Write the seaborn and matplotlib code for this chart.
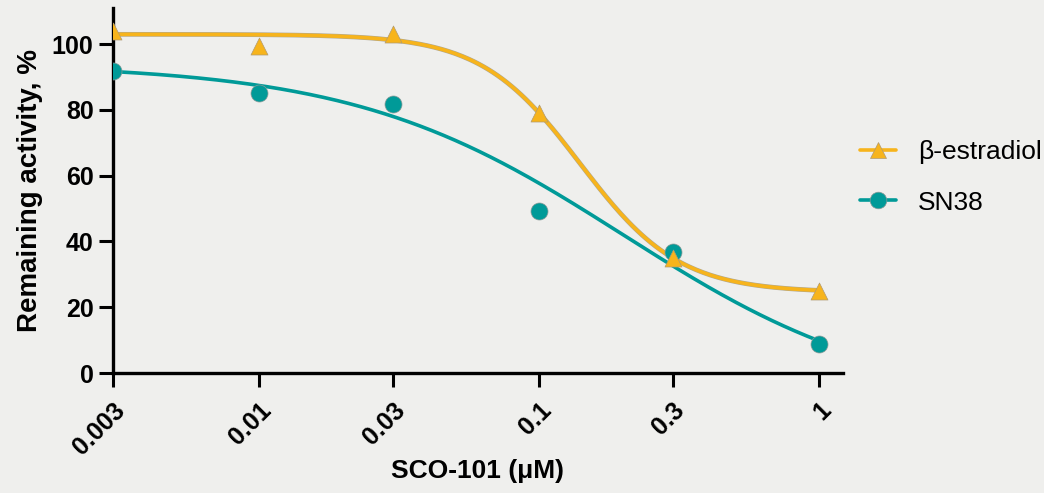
import numpy as np
import pandas as pd
import matplotlib
matplotlib.use("Agg")
import matplotlib.pyplot as plt
import matplotlib.patheffects as pe
from matplotlib.lines import Line2D
import seaborn as sns

# measured points
conc = [0.003, 0.01, 0.03, 0.1, 0.3, 1]
tick_labels = ["0.003", "0.01", "0.03", "0.1", "0.3", "1"]
estradiol = [104, 99.4, 103, 79, 35, 24.8]
sn38 = [91.8, 85.1, 81.8, 49.2, 36.8, 8.9]

# 4PL fit parameters (top, bottom, IC50, hill)
estradiol_fit = [103, 24.5, 0.14, 2.45]
sn38_fit = [94, -10, 0.2, 0.9]

BG = "#efefed"
ORANGE = "#f7b41c"
TEAL = "#009a98"


def four_pl(x, top, bottom, ic50, hill):
    return bottom + (top - bottom) / (1 + (x / ic50) ** hill)


sns.set_theme(style="ticks")
plt.rcParams["font.family"] = ["Liberation Sans", "DejaVu Sans"]
plt.rcParams["text.color"] = "black"
plt.rcParams["axes.labelcolor"] = "black"
plt.rcParams["xtick.color"] = "black"
plt.rcParams["ytick.color"] = "black"

xs = np.geomspace(conc[0], conc[-1], 300)
curves = pd.DataFrame({
    "x": np.concatenate([xs, xs]),
    "y": np.concatenate([four_pl(xs, *estradiol_fit), four_pl(xs, *sn38_fit)]),
    "drug": ["β-estradiol"] * len(xs) + ["SN38"] * len(xs),
})
points = pd.DataFrame({
    "x": conc + conc,
    "y": estradiol + sn38,
    "drug": ["β-estradiol"] * len(conc) + ["SN38"] * len(conc),
})

fig = plt.figure(figsize=(10.44, 4.93), dpi=100, facecolor=BG)
ax = fig.add_axes([0.1082, 0.2434, 0.6993, 0.7404])
ax.set_facecolor(BG)

sns.lineplot(data=curves[curves.drug == "SN38"], x="x", y="y", color=TEAL,
             linewidth=2.6, ax=ax, legend=False)
sns.lineplot(data=curves[curves.drug == "β-estradiol"], x="x", y="y", color=ORANGE,
             linewidth=2.6, ax=ax, legend=False,
             path_effects=[pe.Stroke(linewidth=3.4, foreground="#b0a890"), pe.Normal()])
sns.scatterplot(data=points[points.drug == "SN38"], x="x", y="y", color=TEAL,
                marker="o", s=150, edgecolor="#8a9a98", linewidth=0.5, ax=ax,
                legend=False, zorder=4)
sns.scatterplot(data=points[points.drug == "β-estradiol"], x="x", y="y", color=ORANGE,
                marker="^", s=150, edgecolor="#b09a70", linewidth=0.5, ax=ax,
                legend=False, zorder=4)

ax.set_xscale("log")
ax.set_xlim(0.003, 1.22)
ax.set_ylim(0, 111)
ax.set_xticks(conc)
ax.set_xticklabels(tick_labels, rotation=45, ha="right", va="top",
                   rotation_mode="anchor", fontsize=18, fontweight="bold")
ax.minorticks_off()
ax.set_yticks([0, 20, 40, 60, 80, 100])
ax.set_yticklabels(["0", "20", "40", "60", "80", "100"], fontsize=18, fontweight="bold")
ax.tick_params(axis="both", length=10, width=2.2, color="black", pad=4)
ax.tick_params(axis="x", pad=8)

for s in ["top", "right"]:
    ax.spines[s].set_visible(False)
for s in ["left", "bottom"]:
    ax.spines[s].set_linewidth(2.4)
    ax.spines[s].set_color("black")

ax.set_xlabel("SCO-101 (μM)", fontsize=19, fontweight="bold", labelpad=0)
ax.set_ylabel("Remaining activity, %", fontsize=20, fontweight="bold", labelpad=6)

handles = [
    Line2D([], [], color=ORANGE, marker="^", markersize=12, linewidth=2.6,
           markeredgecolor="#b09a70", markeredgewidth=0.5),
    Line2D([], [], color=TEAL, marker="o", markersize=12, linewidth=2.6,
           markeredgecolor="#8a9a98", markeredgewidth=0.5),
]
fig.legend(handles, ["β-estradiol", "SN38"], loc="center left",
           bbox_to_anchor=(0.801, 0.640), frameon=False, fontsize=19,
           handlelength=1.35, labelspacing=1.0, handletextpad=0.85)

fig.savefig("out.png", dpi=100, facecolor=BG)
